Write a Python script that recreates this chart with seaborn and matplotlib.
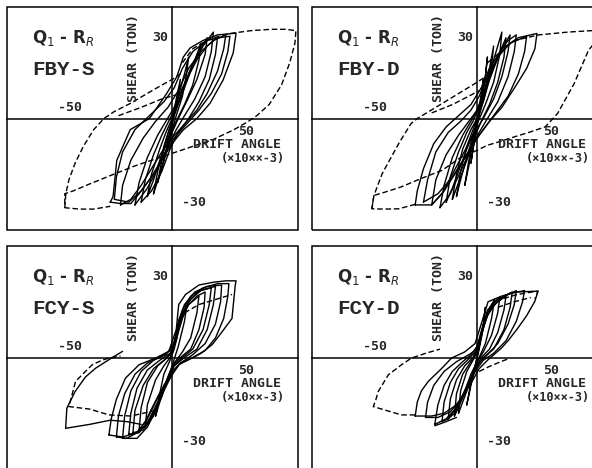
import matplotlib
matplotlib.use("Agg")
import matplotlib.pyplot as plt
from matplotlib.patches import Rectangle
import seaborn as sns

# ---- data (drift angle x10^-3, shear in ton) ----
# FBY-S
FBYS_X1 = [-4, -2, 0, 2, 4, 3, 1, -1, -3, -4]
FBYS_Y1 = [-15, -8, -1, 7, 14, 8, 1, -6, -12, -15]
FBYS_X2 = [-7, -5, -3, -1, 1, 3, 6, 8, 7, 5, 2, 0, -2, -5, -7]
FBYS_Y2 = [-23, -15, -8, -3, 2, 8, 16, 22, 16, 8, 1, -4, -10, -18, -23]
FBYS_X3 = [-12, -10, -6, -3, 0, 4, 8, 11, 14, 13, 10, 6, 2, -2, -6, -9, -12]
FBYS_Y3 = [-28, -20, -11, -5, 0, 7, 15, 21, 27, 21, 12, 5, -1, -7, -15, -22, -28]
FBYS_X4 = [-18, -16, -12, -7, -3, 1, 5, 10, 15, 20, 19, 16, 11, 6, 2, -2, -7, -12, -18]
FBYS_Y4 = [-31, -23, -14, -6, -1, 4, 11, 19, 26, 31, 24, 15, 7, 1, -4, -10, -18, -25, -31]
FBYS_X5 = [-25, -24, -20, -14, -8, -2, 3, 8, 14, 20, 26, 25, 22, 17, 12, 6, 0, -5, -10, -15, -20, -25]
FBYS_Y5 = [-31, -24, -15, -7, -1, 4, 10, 18, 24, 28, 30, 25, 17, 9, 3, -2, -7, -12, -18, -24, -29, -31]
FBYS_X6 = [-30, -28.6, -26.8, -20.3, -11, -2.6, 2.3, 5.4, 8.7, 15, 22, 31, 29.6, 24.7, 18.4, 12, 5.4, 0, -5, -11, -16, -20, -25, -30]
FBYS_Y6 = [-30, -28, -15, -4, 0, 9, 15, 22, 25.3, 28, 30, 30.6, 23.5, 13.8, 5.5, 0, -4.1, -9, -15, -22, -27, -30.5, -30.5, -30]
FBYS_X7 = [-15, -13, -9, -5, -1, 3, 7, 12, 17, 22, 21, 18, 13, 8, 3, -1, -5, -10, -15]
FBYS_Y7 = [-30, -22, -13, -6, 0, 6, 14, 21, 26, 29, 23, 14, 6, 0, -5, -11, -19, -26, -30]
FBYS_X8 = [-9, -7, -4, -1, 2, 5, 9, 13, 17, 16, 12, 7, 3, 0, -3, -6, -9]
FBYS_Y8 = [-27, -19, -10, -3, 3, 10, 18, 24, 29, 23, 14, 6, 0, -5, -12, -20, -27]
FBYS_X9 = [-28, -27, -24, -18, -11, -4, 1, 5, 10, 17, 23, 28, 27, 24, 19, 13, 7, 1, -4, -9, -15, -21, -28]
FBYS_Y9 = [-29, -21, -12, -4, 1, 6, 11, 18, 24, 28, 29, 29.5, 24, 16, 9, 3, -2, -7, -13, -20, -26, -30, -29]
FBYS_DX1 = [5, 10, 18, 28, 38, 48, 55, 60, 59.5, 57, 53, 47, 41, 37, 30, 20, 10, 4, 0, -8, -18, -30, -40, -48, -52, -52, -45, -38, -30]
FBYS_DY1 = [20, 25, 28.5, 30.5, 31.5, 32, 32, 31.5, 27, 20, 12, 5, 1, -1, -4, -7.5, -10, -11.5, -12.5, -14.5, -17, -20.5, -23.5, -26, -27, -32, -32.5, -32.5, -31.5]
FBYS_DX2 = [-52, -51.5, -50, -47, -43, -38, -33, -28, -20, -12, -5, 0, 4]
FBYS_DY2 = [-32, -27, -22, -16, -10, -4, 0, 2.5, 5.5, 9, 12, 14, 16]
FBYS_DX3 = [-26, -15, -5, 2]
FBYS_DY3 = [1, 4, 7, 8.5]

# FBY-D
FBYD_X1 = [-3, -1, 1, 3, 2, 0, -2, -3]
FBYD_Y1 = [-16, -6, 4, 14, 6, -3, -11, -16]
FBYD_X2 = [-6, -4, -2, 0, 2, 4, 5, 4, 2, 0, -2, -4, -6]
FBYD_Y2 = [-24, -15, -7, -1, 6, 15, 22, 15, 6, -1, -8, -17, -24]
FBYD_X3 = [-10, -8, -5, -2, 0, 3, 6, 8, 7, 4, 1, -2, -5, -8, -10]
FBYD_Y3 = [-28, -19, -10, -4, 0, 8, 18, 26, 19, 9, 1, -6, -14, -22, -28]
FBYD_X4 = [-15, -13, -9, -5, -2, 1, 4, 8, 12, 11, 8, 4, 0, -4, -8, -12, -15]
FBYD_Y4 = [-30, -21, -12, -5, -1, 4, 11, 21, 31, 23, 13, 5, -2, -9, -17, -25, -30]
FBYD_X5 = [-22, -20, -15, -9, -4, 0, 4, 8, 12, 16, 15, 12, 8, 3, -2, -7, -12, -17, -22]
FBYD_Y5 = [-31, -22, -13, -6, -1, 3, 10, 18, 25, 30, 24, 15, 7, 0, -6, -13, -20, -27, -31]
FBYD_X6 = [-30, -29, -26, -21, -15, -9, -3, 2, 6, 12, 20, 29, 28, 24, 19, 12, 6, 1, -4, -10, -16, -22, -30]
FBYD_Y6 = [-31, -26, -18, -9, -3, 1, 5, 11, 18, 25, 29, 30.5, 25, 18, 12, 4, -1, -6, -12, -19, -26, -31, -31]
FBYD_X7 = [-12, -10, -7, -3, 0, 3, 6, 10, 14, 13, 10, 6, 2, -2, -5, -9, -12]
FBYD_Y7 = [-29, -20, -11, -4, 0, 6, 14, 22, 29, 22, 13, 5, -1, -8, -15, -23, -29]
FBYD_X8 = [-26, -24, -20, -14, -8, -3, 1, 5, 10, 16, 24, 23, 20, 15, 9, 4, -1, -6, -12, -19, -26]
FBYD_Y8 = [-30, -22, -12, -5, -1, 3, 8, 15, 22, 27, 29.5, 24, 16, 8, 2, -3, -8, -14, -21, -27, -30]
FBYD_X9 = [-18, -16, -12, -7, -3, 0, 3, 7, 11, 15, 19, 18, 15, 10, 5, 1, -3, -8, -13, -18]
FBYD_Y9 = [-32, -24, -14, -6, -1, 3, 9, 17, 24, 28, 30, 24, 15, 6, 0, -5, -11, -19, -27, -32]
FBYD_DX1 = [5, 18, 30, 44, 55, 60, 59, 54, 47, 39, 33, 25, 18, 10, 5, 0, -8, -17, -27, -37, -45, -50, -51, -45, -38, -29]
FBYD_DY1 = [20, 28, 30, 31, 31.5, 31.5, 29, 24.5, 12.5, 1.8, -3, -5, -6.6, -8.5, -9.6, -11.4, -14, -18.6, -21.5, -24.6, -26.5, -27.6, -32.4, -32.5, -32.4, -30.6]
FBYD_DX2 = [-51, -50, -46, -38, -32, -29, -20, -10, 0, 4]
FBYD_DY2 = [-32.4, -27.6, -19.8, -9, -1.8, 0, 4, 8.5, 13, 15]
FBYD_DX3 = [-22, -12, -4, 1]
FBYD_DY3 = [2, 5, 8, 10]

# FCY-S
FCYS_X1 = [-8, -6, -4, -1, 1, 3, 5, 7, 6, 3, 0, -3, -6, -8]
FCYS_Y1 = [-21, -13, -6, -1, 3, 9, 14, 18, 13, 4, -3, -9, -16, -21]
FCYS_X2 = [-13, -12, -8, -4, -1, 1, 4, 8, 13, 12, 9, 5, 1, -2, -5, -9, -13]
FCYS_Y2 = [-25, -17, -8, -3, 0, 5, 13, 19, 22, 16, 7, 2, -2, -7, -14, -21, -25]
FCYS_X3 = [-19, -18, -14, -9, -4, 0, 2, 5, 9, 14, 19, 18, 15, 10, 5, 1, -2, -6, -10, -14, -19]
FCYS_Y3 = [-27, -19, -10, -4, -1, 2, 8, 16, 21, 24, 25, 19, 10, 3, 0, -3, -8, -15, -21, -26, -27]
FCYS_X4 = [-24, -23, -20, -15, -9, -3, 1, 3, 6, 11, 17, 24, 23.5, 21, 16, 10, 4, 0, -4, -8, -12, -17, -24]
FCYS_Y4 = [-29, -21, -12, -5, -1, 1, 5, 13, 19, 23.5, 25.5, 26, 20, 12, 5, 1, -2, -6, -12, -19, -25, -29, -29]
FCYS_X5 = [-30.6, -29.5, -27, -22.6, -16, -8, -1.6, 2, 3.2, 6.5, 13, 20, 26, 31, 30.6, 29, 24, 19.4, 14, 9.7, 3.2, 0, -3, -6.5, -10, -13, -17, -24, -30.6]
FCYS_Y5 = [-27.8, -22, -15, -7.4, -2.6, -0.2, 2.2, 10, 19, 22.6, 26, 27, 27.5, 27.5, 26, 14, 9, 4.6, 1.5, -0.2, -2.6, -6.2, -9.5, -13.4, -18.5, -23, -27, -28.5, -27.8]
FCYS_X6 = [-15, -22, -30, -40, -51.6, -51, -47, -42, -37, -30, -24]
FCYS_Y6 = [-24, -23, -22.5, -24, -25.4, -18.2, -12.2, -7, -3.8, -0.5, 2.2]
FCYS_X7 = [-16, -15, -12, -7, -3, 0, 2, 4, 8, 12, 16, 15.5, 13, 9, 4, 1, -2, -5, -8, -12, -16]
FCYS_Y7 = [-26, -18, -9, -3, -0.5, 2, 7, 14, 19, 22, 23.5, 18, 10, 3, 0, -2.5, -7, -13, -19, -24, -26]
FCYS_X8 = [-27, -26, -23, -18, -12, -5, 0, 2.5, 5, 9, 15, 22, 27.5, 27, 25, 21, 16, 10, 4, 0, -4, -8, -12, -17, -22, -27]
FCYS_Y8 = [-28.5, -21, -13, -6, -2, 0.5, 3, 10, 17, 22, 25, 26.5, 26.5, 22, 14, 7, 2.5, 0, -2, -5, -10, -16, -22, -27, -29, -28.5]
FCYS_X9 = [-21, -20, -17, -12, -6, -1, 2, 4, 8, 13, 21, 20, 17, 12, 6, 1, -3, -7, -11, -16, -21]
FCYS_Y9 = [-27.5, -20, -11, -4.5, -1, 1.5, 6, 14, 20, 24, 25.5, 19, 10, 3, 0, -3, -9, -16, -22, -27, -27.5]
FCYS_DX1 = [-8, -20, -30.6, -40, -50, -48, -46.8, -42, -38.7, -34, -30.6, -25]
FCYS_DY1 = [-19, -21, -20.6, -18.5, -17.6, -12, -8.6, -5, -2.6, -1, -0.2, 0.5]
FCYS_DX2 = [6, 13, 21, 29]
FCYS_DY2 = [16, 19, 20.8, 22.6]

# FCY-D
FCYD_X1 = [-5, -3, -1, 1, 3, 4, 3, 1, -1, -3, -5]
FCYD_Y1 = [-17, -9, -3, 4, 12, 18, 11, 3, -4, -10, -17]
FCYD_X2 = [-9, -8, -5, -2, 0, 2, 5, 8.5, 7, 4, 1, -2, -5, -9]
FCYD_Y2 = [-20, -12, -5, -1, 2, 8, 16, 21, 14, 5, 0, -5, -12, -20]
FCYD_X3 = [-14, -13, -10, -6, -2, 0, 3, 6, 10, 14, 13, 10, 6, 2, -1, -4, -8, -11, -14]
FCYD_Y3 = [-22, -15, -8, -3, 0, 3, 11, 17, 20, 22, 17, 9, 3, 0, -4, -10, -16, -20, -22]
FCYD_X4 = [-20.5, -19, -16, -12, -7, -3, 0, 3, 7, 12, 19, 18, 15, 10, 5, 1, -2, -6, -10, -15, -20.5]
FCYD_Y4 = [-24, -17, -10, -5, -1.5, 1, 4, 12, 18, 21.5, 24, 19, 12, 5, 1, -2, -6, -12, -18, -22, -24]
FCYD_X5 = [-30, -29, -27, -23.7, -17, -12.4, -6, -1, 2, 5.3, 11.8, 19, 29.5, 28, 24, 19.8, 15, 11.8, 5.3, 1, -2, -6, -10, -16, -22, -30]
FCYD_Y5 = [-21, -16, -12, -8.6, -3.8, -0.2, 2, 5, 12, 20, 22, 23.5, 23.8, 20.2, 15, 10.6, 6, 3.4, -0.8, -4, -8, -13, -17, -20, -21, -21]
FCYD_X6 = [-17, -16, -13, -9, -4, -1, 2, 5, 9, 13, 17, 16, 13, 8, 3, 0, -3, -7, -11, -14, -17]
FCYD_Y6 = [-23, -16, -9, -4, -0.5, 2, 8, 15, 19.5, 22, 23.5, 18, 10, 3, 0, -3, -8, -14, -19, -22, -23]
FCYD_X7 = [-25, -24, -21, -16, -10, -4, 0, 2, 5, 10, 16, 23, 22, 19, 14, 8, 3, 0, -4, -8, -13, -19, -25]
FCYD_Y7 = [-21.5, -16, -10, -5, -1.5, 1, 3, 9, 17, 21, 23, 24, 20, 13, 6, 1.5, -1, -4, -9, -15, -19.5, -21.5, -21.5]
FCYD_X8 = [-11, -10, -7, -3, 0, 2, 4, 7, 11, 10, 7, 3, 0, -3, -6, -9, -11]
FCYD_Y8 = [-21, -13, -6, -1.5, 2, 7, 14, 19, 21.5, 16, 8, 2, -1.5, -6, -12, -18, -21]
FCYD_X9 = [-10, -15, -20.5]
FCYD_Y9 = [-21.5, -23, -24.5]
FCYD_DX1 = [-30, -36.6, -44, -50.3, -49, -47.9, -43, -36.6, -31.8, -25, -18]
FCYD_DY1 = [-20.6, -20.6, -19, -17.6, -15, -12.2, -6.2, -2.6, -0.2, 1.5, 3]
FCYD_DX2 = [6, 12, 19, 24, 29.5, 28]
FCYD_DY2 = [18, 21, 22.5, 23.2, 23.8, 21]
FCYD_DX3 = [10, 18, 26]
FCYD_DY3 = [18, 20, 21.5]
FCYD_DX4 = [1, 6, 11.8, 15]
FCYD_DY4 = [-5, -3.2, -1.4, -0.5]

SPECIMENS = ["FBY-S", "FBY-D", "FCY-S", "FCY-D"]

solid = {
    "FBY-S": [(FBYS_X1, FBYS_Y1), (FBYS_X2, FBYS_Y2), (FBYS_X3, FBYS_Y3),
              (FBYS_X4, FBYS_Y4), (FBYS_X5, FBYS_Y5), (FBYS_X6, FBYS_Y6),
              (FBYS_X7, FBYS_Y7), (FBYS_X8, FBYS_Y8), (FBYS_X9, FBYS_Y9)],
    "FBY-D": [(FBYD_X1, FBYD_Y1), (FBYD_X2, FBYD_Y2), (FBYD_X3, FBYD_Y3),
              (FBYD_X4, FBYD_Y4), (FBYD_X5, FBYD_Y5), (FBYD_X6, FBYD_Y6),
              (FBYD_X7, FBYD_Y7), (FBYD_X8, FBYD_Y8), (FBYD_X9, FBYD_Y9)],
    "FCY-S": [(FCYS_X1, FCYS_Y1), (FCYS_X2, FCYS_Y2), (FCYS_X3, FCYS_Y3),
              (FCYS_X4, FCYS_Y4), (FCYS_X5, FCYS_Y5), (FCYS_X6, FCYS_Y6),
              (FCYS_X7, FCYS_Y7), (FCYS_X8, FCYS_Y8), (FCYS_X9, FCYS_Y9)],
    "FCY-D": [(FCYD_X1, FCYD_Y1), (FCYD_X2, FCYD_Y2), (FCYD_X3, FCYD_Y3),
              (FCYD_X4, FCYD_Y4), (FCYD_X5, FCYD_Y5), (FCYD_X6, FCYD_Y6),
              (FCYD_X7, FCYD_Y7), (FCYD_X8, FCYD_Y8), (FCYD_X9, FCYD_Y9)],
}
dashed = {
    "FBY-S": [(FBYS_DX1, FBYS_DY1), (FBYS_DX2, FBYS_DY2), (FBYS_DX3, FBYS_DY3)],
    "FBY-D": [(FBYD_DX1, FBYD_DY1), (FBYD_DX2, FBYD_DY2), (FBYD_DX3, FBYD_DY3)],
    "FCY-S": [(FCYS_DX1, FCYS_DY1), (FCYS_DX2, FCYS_DY2)],
    "FCY-D": [(FCYD_DX1, FCYD_DY1), (FCYD_DX2, FCYD_DY2), (FCYD_DX3, FCYD_DY3),
              (FCYD_DX4, FCYD_DY4)],
}

sns.set_style("white")
plt.rcParams["font.family"] = ["DejaVu Sans"]

fig = plt.figure(figsize=(5.92, 4.68), dpi=100)
W, H = 291 / 592, 223 / 468
positions = [(7 / 592, 238 / 468), (312 / 592, 238 / 468),
             (7 / 592, -1 / 468), (312 / 592, -1 / 468)]

for name, (left, bottom) in zip(SPECIMENS, positions):
    ax = fig.add_axes([left, bottom, W, H])
    for x, y in solid[name]:
        sns.lineplot(x=x, y=y, sort=False, estimator=None, color="black",
                     lw=1.0, ax=ax, legend=False)
    for x, y in dashed[name]:
        sns.lineplot(x=x, y=y, sort=False, estimator=None, color="black",
                     lw=1.0, linestyle=(0, (4, 2)), ax=ax, legend=False)

    ax.set_xlim(-80, 61)
    ax.set_ylim(-40, 40)
    ax.set_xlabel("")
    ax.set_ylabel("")
    ax.spines["left"].set_position(("data", 0))
    ax.spines["bottom"].set_position(("data", 0))
    for s in ["left", "bottom"]:
        ax.spines[s].set_linewidth(1.1)
        ax.spines[s].set_color("black")
    ax.spines["top"].set_visible(False)
    ax.spines["right"].set_visible(False)
    ax.add_patch(Rectangle((0, 0), 1, 1, transform=ax.transAxes, fill=False,
                           lw=1.1, ec="black", clip_on=False))
    ax.set_xticks([-70, -60, -50, -40, -30, -20, -10, 10, 20, 30, 40, 50, 60])
    ax.set_yticks([-30, -20, -10, 10, 20, 30])
    ax.tick_params(direction="inout", length=5, width=1, color="black",
                   labelbottom=False, labelleft=False)

    ax.text(-67.8, 28.9, "Q$_1$ - R$_R$", fontsize=12, fontweight="bold",
            ha="left", va="center")
    ax.text(-67.8, 17.4, name, fontsize=15, family="Liberation Mono",
            fontweight="bold", ha="left", va="center")
    mono = dict(family="DejaVu Sans Mono", fontsize=9.5, fontweight="bold")
    ax.text(-49.4, 3.8, "-50", ha="center", va="center", **mono)
    ax.text(-1.9, 29.2, "30", ha="right", va="center", **mono)
    ax.text(4.8, -30.3, "-30", ha="left", va="center", **mono)
    ax.text(-18.9, 21.7, "SHEAR (TON)", rotation=90, ha="center",
            va="center", **mono)
    ax.text(35.9, -4.8, "50", ha="center", va="center", **mono)
    ax.text(10.2, -9.5, "DRIFT ANGLE", ha="left", va="center", **mono)
    ax.text(23.5, -14.2, "(×10××-3)", ha="left", va="center",
            family="DejaVu Sans Mono", fontsize=8.6, fontweight="bold")

fig.savefig("out.png", dpi=100)
